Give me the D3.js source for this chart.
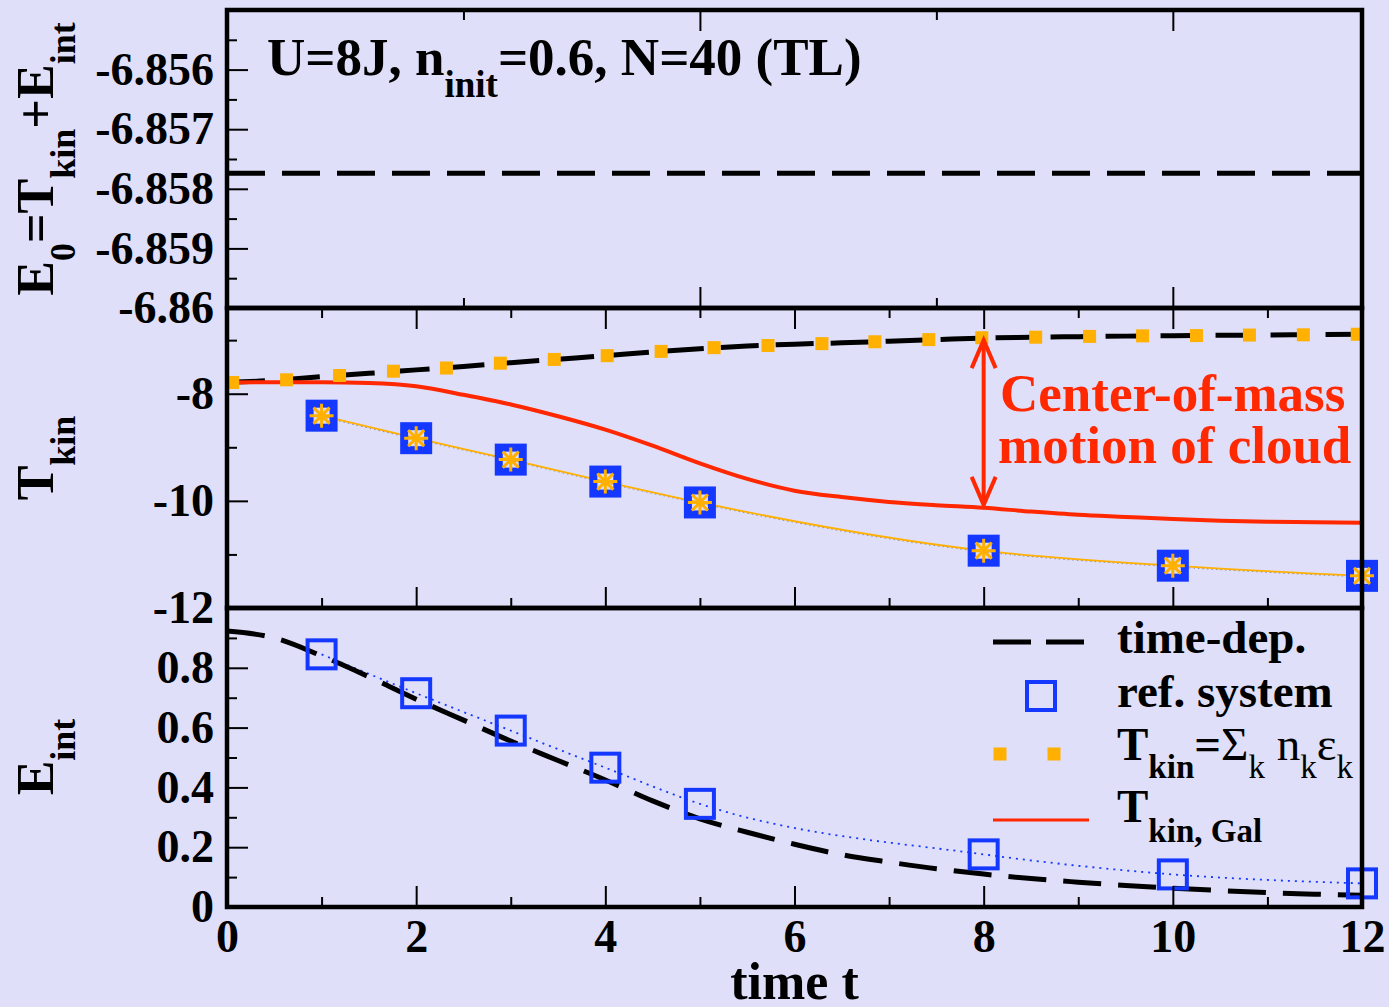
<!DOCTYPE html>
<html>
<head>
<meta charset="utf-8">
<script src="https://cdn.jsdelivr.net/npm/d3@7"></script>
<style>
body { margin: 0; background: #dfdff9; }
svg { display: block; font-family: "Liberation Serif", "Times New Roman", serif; font-weight: bold; }
</style>
</head>
<body>
<div id="chart"></div>
<script>
// time grid of the continuous curves
const tGrid = [0,0.5,1,1.5,2,2.5,3,3.5,4,4.5,5,5.5,6,6.5,7,7.5,8,8.5,9,9.5,10,10.5,11,11.5,12];
// time-dep. kinetic energy (black dashed, middle)
const tkinTD = [-7.79,-7.75,-7.68,-7.62,-7.555,-7.49,-7.42,-7.355,-7.29,-7.22,-7.16,-7.11,-7.075,-7.05,-7.02,-6.99,-6.96,-6.945,-6.935,-6.925,-6.918,-6.91,-6.903,-6.897,-6.892];
// T_kin,Gal (red)
const tkinGal = [-7.79,-7.785,-7.785,-7.80,-7.86,-8.02,-8.20,-8.42,-8.67,-8.97,-9.30,-9.59,-9.81,-9.93,-10.02,-10.08,-10.13,-10.20,-10.26,-10.30,-10.34,-10.37,-10.39,-10.40,-10.41];
// time-dep. interaction energy (black dashed, bottom)
const eintTD = [0.923,0.90,0.84,0.77,0.695,0.625,0.555,0.49,0.425,0.355,0.295,0.25,0.21,0.175,0.15,0.128,0.11,0.095,0.083,0.072,0.063,0.055,0.048,0.043,0.039];

// T_kin = sum_k n_k eps_k (orange squares)
const sumT = [0.06,0.63,1.19,1.76,2.32,2.89,3.46,4.02,4.59,5.15,5.72,6.29,6.85,7.42,7.98,8.55,9.12,9.68,10.25,10.81,11.38,11.95];
const sumTkin = [-7.79,-7.74,-7.66,-7.58,-7.52,-7.43,-7.36,-7.29,-7.21,-7.14,-7.10,-7.065,-7.03,-6.99,-6.955,-6.945,-6.93,-6.92,-6.915,-6.905,-6.90,-6.89];

// reference system
const refT = [1,2,3,4,5,8,10,12];
const tkinRef = [-8.41,-8.83,-9.23,-9.64,-10.03,-10.93,-11.21,-11.40];
const eintRef = [0.845,0.715,0.59,0.466,0.345,0.176,0.109,0.079];

// conserved total energy
const e0 = -6.85774;

// arrow: t, from, to
const arrowT = 8, arrowFrom = -7.0, arrowTo = -10.075;

// ticks
const xMajor = [0,2,4,6,8,10,12], xMinor = [1,3,5,7,9,11];
const xTopMajor = [0,5,10], xTopMinor = [2.5,7.5];
const topMajor = [-6.86,-6.859,-6.858,-6.857,-6.856,-6.855], topMinor = [-6.8595,-6.8585,-6.8575,-6.8565,-6.8555];
const topLabels = [-6.86,-6.859,-6.858,-6.857,-6.856];
const midMajor = [-12,-10,-8], midMinor = [-11,-9,-7];
const botMajor = [0,0.2,0.4,0.6,0.8,1], botMinor = [0.1,0.3,0.5,0.7,0.9];
const botLabels = [0,0.2,0.4,0.6,0.8];

const W = 1389, H = 1007;
const blue = "#1438ff", orange = "#ffb000", red = "#ff2800";

const svg = d3.select("#chart").append("svg").attr("width", W).attr("height", H);

const x = d3.scaleLinear().domain([0, 12]).range([227, 1362]);
const yTop = d3.scaleLinear().domain([-6.86, -6.855]).range([308, 10]);
const yMid = d3.scaleLinear().domain([-12, -6.4]).range([608, 308]);
const yBot = d3.scaleLinear().domain([0, 1]).range([907, 608]);

const fmt = d => String(+d.toFixed(4));

function clip(id, y) {
  svg.append("clipPath").attr("id", id).append("rect")
    .attr("x", x(0)).attr("y", y.range()[1])
    .attr("width", x(12) - x(0)).attr("height", y.range()[0] - y.range()[1]);
}
clip("cTop", yTop); clip("cMid", yMid); clip("cBot", yBot);

function line(y, curve) {
  return d3.line().x(d => x(d[0])).y(d => y(d[1])).curve(curve || d3.curveMonotoneX);
}
const zip = (a, b) => a.map((v, i) => [v, b[i]]);

// ---- top panel
svg.append("g").attr("clip-path", "url(#cTop)")
  .append("path").datum([[0, e0], [12, e0]])
  .attr("d", line(yTop, d3.curveLinear))
  .attr("fill", "none").attr("stroke", "#000").attr("stroke-width", 5)
  .attr("stroke-dasharray", "38,17");

// ---- middle panel
const gMid = svg.append("g").attr("clip-path", "url(#cMid)");
gMid.append("path").datum(zip(tGrid, tkinTD)).attr("d", line(yMid))
  .attr("fill", "none").attr("stroke", "#000").attr("stroke-width", 5)
  .attr("stroke-dasharray", "38,17");
gMid.append("path").datum(zip(tGrid, tkinGal)).attr("d", line(yMid))
  .attr("fill", "none").attr("stroke", red).attr("stroke-width", 4);
gMid.append("path").datum(zip(refT, tkinRef)).attr("d", line(yMid))
  .attr("fill", "none").attr("stroke", "#8a8aa8").attr("stroke-width", 1.2)
  .attr("stroke-dasharray", "1.5,3").attr("transform", "translate(0,1)");
gMid.append("path").datum(zip(refT, tkinRef)).attr("d", line(yMid))
  .attr("fill", "none").attr("stroke", orange).attr("stroke-width", 1.8);

svg.append("g").selectAll("rect").data(zip(sumT, sumTkin)).join("rect")
  .attr("x", d => x(d[0]) - 6.5).attr("y", d => yMid(d[1]) - 6.5)
  .attr("width", 13).attr("height", 13).attr("fill", orange)
  .attr("clip-path", "url(#cMid)");

svg.append("g").selectAll("rect").data(zip(refT, tkinRef)).join("rect")
  .attr("x", d => x(d[0]) - 12).attr("y", d => yMid(d[1]) - 12)
  .attr("width", 24).attr("height", 24)
  .attr("fill", "none").attr("stroke", blue).attr("stroke-width", 8);

const star = "M0,-12V12M-12,0H12M-8,-8L8,8M-8,8L8,-8";
svg.append("g").selectAll("path").data(zip(refT, tkinRef)).join("path")
  .attr("transform", d => `translate(${x(d[0])},${yMid(d[1])})`)
  .attr("d", star).attr("stroke", orange).attr("stroke-width", 3).attr("fill", "none");

// arrow
const ax = x(arrowT), a1 = yMid(arrowFrom), a2 = yMid(arrowTo);
const gArr = svg.append("g").attr("stroke", red).attr("stroke-width", 4).attr("fill", "none");
gArr.append("line").attr("x1", ax).attr("x2", ax).attr("y1", a1 + 2).attr("y2", a2 - 2);
gArr.append("polyline").attr("points", `${ax - 12},${a1 + 28} ${ax},${a1} ${ax + 12},${a1 + 28}`);
gArr.append("polyline").attr("points", `${ax - 12},${a2 - 28} ${ax},${a2} ${ax + 12},${a2 - 28}`);

const note = svg.append("text").attr("fill", red).attr("font-size", 53);
note.append("tspan").attr("x", 1000).attr("y", 411).text("Center-of-mass");
note.append("tspan").attr("x", 998).attr("y", 463).text("motion of cloud");

// ---- bottom panel
const gBot = svg.append("g").attr("clip-path", "url(#cBot)");
gBot.append("path").datum(zip(refT, eintRef)).attr("d", line(yBot))
  .attr("fill", "none").attr("stroke", blue).attr("stroke-width", 1.8)
  .attr("stroke-dasharray", "2,5");
gBot.append("path").datum(zip(tGrid, eintTD)).attr("d", line(yBot))
  .attr("fill", "none").attr("stroke", "#000").attr("stroke-width", 5)
  .attr("stroke-dasharray", "38,17");

svg.append("g").selectAll("rect").data(zip(refT, eintRef)).join("rect")
  .attr("x", d => x(d[0]) - 14).attr("y", d => yBot(d[1]) - 14)
  .attr("width", 28).attr("height", 28)
  .attr("fill", "none").attr("stroke", blue).attr("stroke-width", 4);

// ---- axes
function styleAxis(g) {
  g.attr("font-family", null).attr("font-size", null);
  g.select(".domain").remove();
  g.selectAll(".tick line").attr("stroke", "#000").attr("stroke-width", 2);
  g.selectAll(".tick text").attr("fill", "#000").attr("font-size", 46);
}
function yAxis(y, major, minor, labels) {
  svg.append("g").attr("transform", `translate(${x(0)},0)`)
    .call(d3.axisLeft(y).tickValues(minor).tickSize(-10).tickFormat("")).call(styleAxis);
  svg.append("g").attr("transform", `translate(${x(0)},0)`)
    .call(d3.axisLeft(y).tickValues(major).tickSize(-21).tickFormat("")).call(styleAxis);
  svg.append("g").attr("transform", `translate(${x(0)},0)`)
    .call(d3.axisLeft(y).tickValues(labels).tickSize(0).tickPadding(13).tickFormat(fmt)).call(styleAxis);
}
function xTicks(yPos, dir, major, minor) {
  const ax = dir < 0 ? d3.axisTop : d3.axisBottom;
  svg.append("g").attr("transform", `translate(0,${yPos})`)
    .call(ax(x).tickValues(minor).tickSize(-10).tickFormat("")).call(styleAxis);
  svg.append("g").attr("transform", `translate(0,${yPos})`)
    .call(ax(x).tickValues(major).tickSize(-21).tickFormat("")).call(styleAxis);
}
xTicks(yTop.range()[1], -1, xTopMajor, xTopMinor);
xTicks(yTop.range()[0], 1, xTopMajor, xTopMinor);
xTicks(yMid.range()[1], -1, xMajor, xMinor);
xTicks(yMid.range()[0], 1, xMajor, xMinor);
xTicks(yBot.range()[0], 1, xMajor, xMinor);
svg.append("g").attr("transform", `translate(0,${yBot.range()[0]})`)
  .call(d3.axisBottom(x).tickValues(xMajor).tickSize(0).tickPadding(12).tickFormat(fmt)).call(styleAxis);

yAxis(yTop, topMajor, topMinor, topLabels);
yAxis(yMid, midMajor, midMinor, midMajor);
yAxis(yBot, botMajor, botMinor, botLabels);

// frames
[yTop, yMid, yBot].forEach(y => {
  svg.append("rect").attr("x", x(0)).attr("y", y.range()[1])
    .attr("width", x(12) - x(0)).attr("height", y.range()[0] - y.range()[1])
    .attr("fill", "none").attr("stroke", "#000").attr("stroke-width", 4.5);
});

// ---- labels with subscripts
function rich(parent, parts, size, shift) {
  const t = parent.append("text").attr("font-size", size);
  let cur = 0;
  parts.forEach(p => {
    const sub = p.sub ? shift : 0;
    const ts = t.append("tspan").attr("dy", sub - cur).text(p.t);
    if (p.sub) ts.attr("font-size", Math.round(size * 0.7));
    if (p.normal) ts.attr("font-weight", "normal");
    cur = sub;
  });
  return t;
}

rich(svg.append("g").attr("transform", "translate(53,159) rotate(-90)"),
  [{t: "E"}, {t: "0", sub: 1}, {t: "=T"}, {t: "kin", sub: 1}, {t: "+E"}, {t: "int", sub: 1}], 52, 22)
  .attr("text-anchor", "middle");
rich(svg.append("g").attr("transform", "translate(53,458) rotate(-90)"),
  [{t: "T"}, {t: "kin", sub: 1}], 52, 22).attr("text-anchor", "middle");
rich(svg.append("g").attr("transform", "translate(53,757) rotate(-90)"),
  [{t: "E"}, {t: "int", sub: 1}], 52, 22).attr("text-anchor", "middle");

rich(svg.append("g").attr("transform", "translate(267,75)"),
  [{t: "U=8J, n"}, {t: "init", sub: 1}, {t: "=0.6, N=40 (TL)"}], 53, 22);

svg.append("text").attr("x", x(6)).attr("y", 999).attr("text-anchor", "middle")
  .attr("font-size", 52).text("time t");

// ---- legend
const lg = svg.append("g");
lg.append("line").attr("x1", 993).attr("x2", 1085).attr("y1", 642).attr("y2", 642)
  .attr("stroke", "#000").attr("stroke-width", 5).attr("stroke-dasharray", "38,15");
lg.append("rect").attr("x", 1041 - 14).attr("y", 696 - 14).attr("width", 28).attr("height", 28)
  .attr("fill", "none").attr("stroke", blue).attr("stroke-width", 4);
[1000, 1054].forEach(cx => lg.append("rect").attr("x", cx - 6.5).attr("y", 754 - 6.5)
  .attr("width", 13).attr("height", 13).attr("fill", orange));
lg.append("line").attr("x1", 993).attr("x2", 1089).attr("y1", 820).attr("y2", 820)
  .attr("stroke", red).attr("stroke-width", 3);

lg.append("text").attr("x", 1117).attr("y", 653).attr("font-size", 47).text("time-dep.");
lg.append("text").attr("x", 1117).attr("y", 707).attr("font-size", 47).text("ref. system");
rich(lg.append("g").attr("transform", "translate(1117,760)"),
  [{t: "T"}, {t: "kin", sub: 1}, {t: "=", }, {t: "\u03A3", normal: 1}, {t: "k", sub: 1, normal: 1},
   {t: " n", normal: 1}, {t: "k", sub: 1, normal: 1}, {t: "\u03B5", normal: 1}, {t: "k", sub: 1, normal: 1}], 47, 18);
rich(lg.append("g").attr("transform", "translate(1117,822)"),
  [{t: "T"}, {t: "kin, Gal", sub: 1}], 47, 20);
</script>
</body>
</html>
